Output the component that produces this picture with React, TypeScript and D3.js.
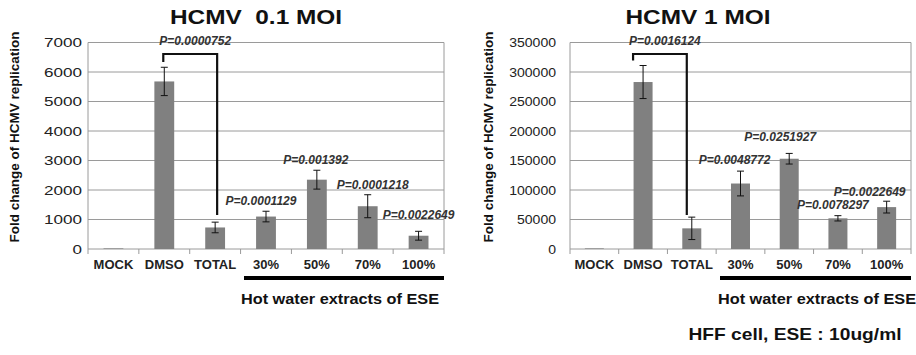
import React from "react";
import * as d3 from "d3";

const categories = ["MOCK", "DMSO", "TOTAL", "30%", "50%", "70%", "100%"];

const moi01Values = [20, 5680, 730, 1100, 2350, 1450, 450];
const moi01Errors = [0, 480, 180, 180, 320, 390, 150];
const moi01Ticks = [0, 1000, 2000, 3000, 4000, 5000, 6000, 7000];
const moi01Bracket = "P=0.0000752";
const moi01PLabels = ["", "", "", "P=0.0001129", "P=0.001392", "P=0.0001218", "P=0.0022649"];

const moi1Values = [1000, 283000, 35000, 111000, 153000, 52000, 71000];
const moi1Errors = [0, 28000, 19000, 21000, 9000, 4500, 10000];
const moi1Ticks = [0, 50000, 100000, 150000, 200000, 250000, 300000, 350000];
const moi1Bracket = "P=0.0016124";
const moi1PLabels = ["", "", "", "P=0.0048772", "P=0.0251927", "P=0.0078297", "P=0.0022649"];

// label offsets (layout only): [dx from band center, dy from error top]
const moi01LabelOffsets = [[0, 0], [0, 0], [0, 0], [-5, -6], [-1, -6.5], [5, -6], [0, -12.5]];
const moi1LabelOffsets = [[0, 0], [0, 0], [0, 0], [-6, -7], [-9, -12.5], [-5, -6.5], [-17, -5.5]];

const FONT = "'Liberation Sans', Arial, sans-serif";

type PanelProps = {
  title: string;
  titleW: number;
  titleX: number;
  x0: number;
  x1: number;
  values: number[];
  errors: number[];
  ticks: number[];
  tickCharW: number;
  tickRight: number;
  yMax: number;
  yTitleX: number;
  bracket: string;
  bracketLeftDx: number;
  bracketRightDx: number;
  pLabels: string[];
  offsets: number[][];
  lineX0: number;
  footX: number;
};

function Panel(p: PanelProps) {
  const yTop = 42.5;
  const yBot = 249;
  const x = d3.scaleBand<string>().domain(categories).range([p.x0, p.x1]).paddingInner(0).paddingOuter(0);
  const y = d3.scaleLinear().domain([0, p.yMax]).range([yBot, yTop]);
  const bw = x.bandwidth() * 0.39;
  const cx = (c: string) => (x(c) as number) + x.bandwidth() / 2;
  const dmsoTop = y(p.values[1] + p.errors[1]);
  const bY = 54;
  const bl = cx("DMSO") + p.bracketLeftDx;
  const br = cx("TOTAL") + p.bracketRightDx;
  return (
    <g fontFamily={FONT}>
      <text x={p.titleX} y={24} textAnchor="middle" fontSize={20} fontWeight="bold" fill="#111"
        textLength={p.titleW} lengthAdjust="spacingAndGlyphs" style={{ whiteSpace: "pre" }}>{p.title}</text>
      {p.ticks.map((t) => (
        <line key={t} x1={p.x0} x2={p.x1} y1={y(t)} y2={y(t)} stroke="#9a9a9a" strokeWidth={1} />
      ))}
      <line x1={p.x0} x2={p.x0} y1={yTop} y2={yBot} stroke="#9a9a9a" />
      <line x1={p.x1} x2={p.x1} y1={yTop} y2={yBot} stroke="#9a9a9a" />
      {p.ticks.map((t) => {
        const s = String(t);
        return (
          <text key={t} x={p.tickRight} y={y(t) + 4.5} textAnchor="end" fontSize={12} fill="#222"
            textLength={s.length * p.tickCharW} lengthAdjust="spacingAndGlyphs">{s}</text>
        );
      })}
      <text transform={`translate(${p.yTitleX},137) rotate(-90)`} textAnchor="middle" fontSize={13.5}
        fontWeight="bold" fill="#111" textLength={211} lengthAdjust="spacingAndGlyphs">Fold change of HCMV replication</text>
      {categories.map((c) => (
        <line key={c} x1={x(c) as number} x2={x(c) as number} y1={yBot} y2={yBot + 5} stroke="#9a9a9a" />
      ))}
      <line x1={p.x1} x2={p.x1} y1={yBot} y2={yBot + 5} stroke="#9a9a9a" />
      {categories.map((c, i) => (
        <rect key={c} x={cx(c) - bw / 2} width={bw} y={y(p.values[i])} height={yBot - y(p.values[i])} fill="#808080" />
      ))}
      {categories.map((c, i) =>
        p.errors[i] > 0 ? (
          <g key={c} stroke="#111" strokeWidth={1}>
            <line x1={cx(c)} x2={cx(c)} y1={y(p.values[i] + p.errors[i])} y2={y(p.values[i] - p.errors[i])} />
            <line x1={cx(c) - 3.5} x2={cx(c) + 3.5} y1={y(p.values[i] + p.errors[i])} y2={y(p.values[i] + p.errors[i])} />
            <line x1={cx(c) - 3.5} x2={cx(c) + 3.5} y1={y(p.values[i] - p.errors[i])} y2={y(p.values[i] - p.errors[i])} />
          </g>
        ) : null
      )}
      {categories.map((c) => (
        <text key={c} x={cx(c)} y={269} textAnchor="middle" fontSize={13} fontWeight="bold" fill="#222">{c}</text>
      ))}
      <path d={`M${bl},${Math.min(dmsoTop - 5, 62)} L${bl},${bY} L${br},${bY} L${br},215`} fill="none" stroke="#111" strokeWidth={2.2} />
      <text x={(bl + br) / 2 + 5} y={45} textAnchor="middle" fontSize={12} fontStyle="italic" fontWeight="bold" fill="#333">{p.bracket}</text>
      {categories.map((c, i) =>
        p.pLabels[i] ? (
          <text key={c} x={cx(c) + p.offsets[i][0]} y={y(p.values[i] + p.errors[i]) + p.offsets[i][1]}
            textAnchor="middle" fontSize={12} fontStyle="italic" fontWeight="bold" fill="#333">{p.pLabels[i]}</text>
        ) : null
      )}
      <rect x={p.lineX0} y={276} width={p.x1 - p.lineX0} height={4} fill="#000" />
      <text x={p.footX} y={304} textAnchor="middle" fontSize={15} fontWeight="bold" fill="#111"
        textLength={198} lengthAdjust="spacingAndGlyphs">Hot water extracts of ESE</text>
    </g>
  );
}

export default function App() {
  return (
    <svg width={916} height={355} style={{ display: "block", position: "absolute", left: 0, top: 0, background: "#fff" }}>
      <Panel title="HCMV  0.1 MOI" titleW={172} titleX={256} x0={88} x1={444} values={moi01Values} errors={moi01Errors}
        ticks={moi01Ticks} tickCharW={9.5} tickRight={82} yMax={7000} yTitleX={19} bracket={moi01Bracket}
        bracketLeftDx={-1} bracketRightDx={2} pLabels={moi01PLabels} offsets={moi01LabelOffsets} lineX0={244} footX={340} />
      <Panel title="HCMV 1 MOI" titleW={145} titleX={698} x0={570} x1={911} values={moi1Values} errors={moi1Errors}
        ticks={moi1Ticks} tickCharW={7.8} tickRight={556} yMax={350000} yTitleX={493} bracket={moi1Bracket}
        bracketLeftDx={-10} bracketRightDx={-5} pLabels={moi1PLabels} offsets={moi1LabelOffsets} lineX0={720} footX={817} />
      <text x={795} y={340} textAnchor="middle" fontFamily={FONT} fontSize={17} fontWeight="bold" fill="#111"
        textLength={213} lengthAdjust="spacingAndGlyphs">HFF cell, ESE : 10ug/ml</text>
    </svg>
  );
}
